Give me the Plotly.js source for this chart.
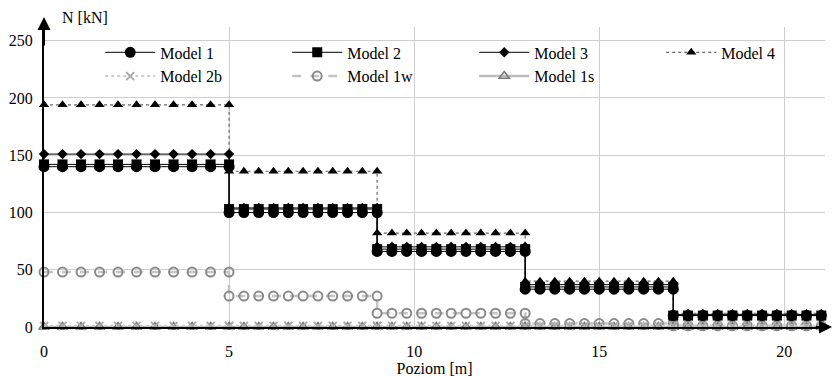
<!DOCTYPE html>
<html>
<head>
<meta charset="utf-8">
<script src="https://cdn.plot.ly/plotly-3.0.1.min.js"></script>
<style>
html,body{margin:0;padding:0;background:#fff}
#chart{width:833px;height:377px}
</style>
</head>
<body>
<div id="chart"></div>
<script>
// Positions along the level (m) of each segment's points
const seg1X = [0,0.5,1,1.5,2,2.5,3,3.5,4,4.5,5];
const seg2X = [5,5.4,5.8,6.2,6.6,7,7.4,7.8,8.2,8.6,9];
const seg3X = [9,9.4,9.8,10.2,10.6,11,11.4,11.8,12.2,12.6,13];
const seg4X = [13,13.4,13.8,14.2,14.6,15,15.4,15.8,16.2,16.6,17];
const seg5X = [17,17.4,17.8,18.2,18.6,19,19.4,19.8,20.2,20.6,21];
const segmentsX = [seg1X, seg2X, seg3X, seg4X, seg5X];

// Axial force N [kN] per segment for each model
const model1  = [140, 100, 66, 33, 10];
const model2  = [142, 103, 68, 35, 10];
const model3  = [151, 104, 70, 37, 11];
const model4  = [194, 136, 82, 40, 12];
const model2b = [1, 1, 1, 1, 1];
const model1w = [48, 27, 12, 3, 1];
const model1s = [0, 0, 0, 0, 0];

const names = ["Model 1","Model 2","Model 3","Model 4","Model 2b","Model 1w","Model 1s"];
const xTicks = [0,5,10,15,20];
const yTicks = [0,50,100,150,200,250];

function expand(vals){
  const xs=[], ys=[];
  segmentsX.forEach((seg,i)=>{ seg.forEach(x=>{ xs.push(x); ys.push(vals[i]); }); });
  return {x:xs, y:ys};
}

const styles = [
  {data:model1,  marker:{symbol:'circle', size:11, color:'#000'}, line:{color:'#000', width:1, dash:'solid'}},
  {data:model2,  marker:{symbol:'square', size:10, color:'#000'}, line:{color:'#000', width:1, dash:'solid'}},
  {data:model3,  marker:{symbol:'diamond', size:8, color:'#000'}, line:{color:'#000', width:1, dash:'solid'}},
  {data:model4,  marker:{symbol:'triangle-up', size:9, color:'#000'}, line:{color:'#666', width:1.2, dash:'dot'}},
  {data:model2b, marker:{symbol:'x-thin-open', size:8, color:'#aaa', line:{width:2, color:'#aaa'}}, line:{color:'#ccc', width:2, dash:'dot'}},
  {data:model1w, marker:{symbol:'circle-open', size:9, color:'#8a8a8a', line:{width:2, color:'#8a8a8a'}}, line:{color:'#c4c4c4', width:2.5, dash:'dash'}},
  {data:model1s, marker:{symbol:'triangle-up-open', size:9, color:'#777', line:{width:1.5, color:'#777'}}, line:{color:'#bbb', width:2.5, dash:'solid'}}
];

const order = [6,5,4,3,2,1,0]; // draw light ones first
const traces = names.map((n,i)=>{
  const d = expand(styles[i].data);
  return {type:'scatter', mode:'lines+markers', name:n, x:d.x, y:d.y,
    marker:styles[i].marker, line:styles[i].line, cliponaxis:false, legendrank:i+1};
});
const drawTraces = order.map(i=>traces[i]);

const fam = 'Liberation Serif';
const mkFont = (s)=>({family:fam, size:s, color:'#000'});

const layout = {
  width:833, height:377,
  margin:{l:44, r:8, t:27, b:50, autoexpand:false},
  paper_bgcolor:'#fff', plot_bgcolor:'#fff',
  font:mkFont(16),
  showlegend:true,
  legend:{orientation:'h', x:0.072, y:0.972, xanchor:'left', yanchor:'top',
    bgcolor:'rgba(0,0,0,0)', entrywidth:122, entrywidthmode:'pixels',
    font:mkFont(16), traceorder:'normal', tracegroupgap:0, itemwidth:50},
  xaxis:{range:[0,21.1], tickvals:xTicks, ticktext:xTicks.map(String), showgrid:true, gridcolor:'#cfcfcf', gridwidth:1,
    zeroline:false, showline:true, linecolor:'#000', linewidth:2, ticks:'', ticklabelstandoff:9,
    tickfont:mkFont(16), title:{text:'Poziom [m]', font:mkFont(16), standoff:4}},
  yaxis:{range:[0,262], tickvals:yTicks, ticktext:yTicks.map(String), showgrid:true, gridcolor:'#cfcfcf', gridwidth:1,
    zeroline:false, showline:true, linecolor:'#000', linewidth:2, ticks:'', ticklabelstandoff:6, tickfont:mkFont(16)},
  annotations:[
    {xref:'paper', yref:'paper', x:0, y:1.033, ax:0, ay:30, axref:'pixel', ayref:'pixel', showarrow:true, arrowhead:2, arrowsize:1.3, arrowwidth:2, arrowcolor:'#000', text:''},
    {xref:'paper', yref:'paper', x:1.012, y:0, ax:-20, ay:0, showarrow:true, arrowhead:2, arrowsize:1.3, arrowwidth:2, arrowcolor:'#000', text:''},
    {xref:'paper', yref:'paper', x:0.02, y:1.03, xanchor:'left', yanchor:'middle', showarrow:false, text:'N [kN]', font:mkFont(16)}
  ]
};

Plotly.newPlot('chart', drawTraces, layout, {displayModeBar:false, staticPlot:true});
</script>
</body>
</html>
